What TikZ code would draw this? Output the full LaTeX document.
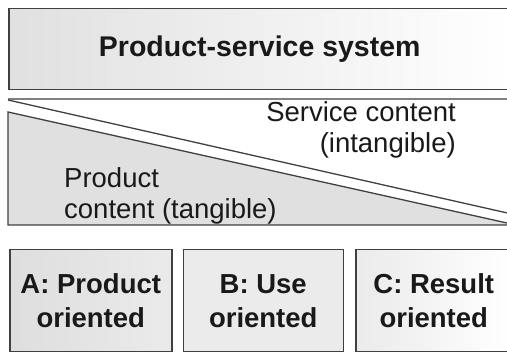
\documentclass[tikz,border=0pt]{standalone}
\usepackage{fontspec}
\setmainfont{Liberation Sans}
\usetikzlibrary{positioning}
\tikzset{
  kasten/.style={draw=black!75, line width=1.5pt, inner sep=0pt, align=center,
    text=black!90, font=\fontsize{27.5}{34}\selectfont\bfseries},
  beschrift/.style={inner sep=0pt, text=black!90, font=\fontsize{27.5}{31}\selectfont},
}
\begin{document}
\begin{tikzpicture}[x=1pt,y=-1pt]
		\useasboundingbox (0,0) rectangle (507,352);
		\clip (0,0) rectangle (507,352);
		
		% Oberer Kasten
		\node[kasten, left color=black!12, right color=white, minimum width=502pt,
			minimum height=81pt, anchor=north west, font=\fontsize{28.5}{34}\selectfont\bfseries]
			(pss) at (8,8) {Product-service system};
		
		% Weisses Dreieck (Dienstleistung)
		\draw[black!50, line width=1.3pt] (8,99) -- (525,99);
		\draw[black!75, line width=1.3pt] (8,100) -- (525,217);
		
		% Graues Dreieck (Produkt)
		\filldraw[fill=black!12, draw=black!75, line width=1.3pt] (8,112) -- (8,225) -- (516,225) -- cycle;
		
		% Beschriftung der Dreiecke
		\node[beschrift, anchor=east, align=right] (dienst) at (456,130) {Service content\\(intangible)};
		\node[beschrift, anchor=west, align=left] (produkt) at (64,196) {Product\\content (tangible)};
		
		% Untere Kaesten A, B, C
		\node[kasten, left color=black!13, right color=black!8, minimum width=162pt,
			minimum height=102pt, anchor=north west] (prodor) at (9,249) {A: Product\\oriented};
		\node[kasten, fill=black!8, minimum width=160pt, minimum height=102pt,
			right=10pt of prodor] (useor) {B: Use\\oriented};
		\node[kasten, left color=black!8, right color=white, minimum width=156pt,
			minimum height=102pt, right=11pt of useor] (resultor) {C: Result\\oriented};
	\end{tikzpicture}
\end{document}
